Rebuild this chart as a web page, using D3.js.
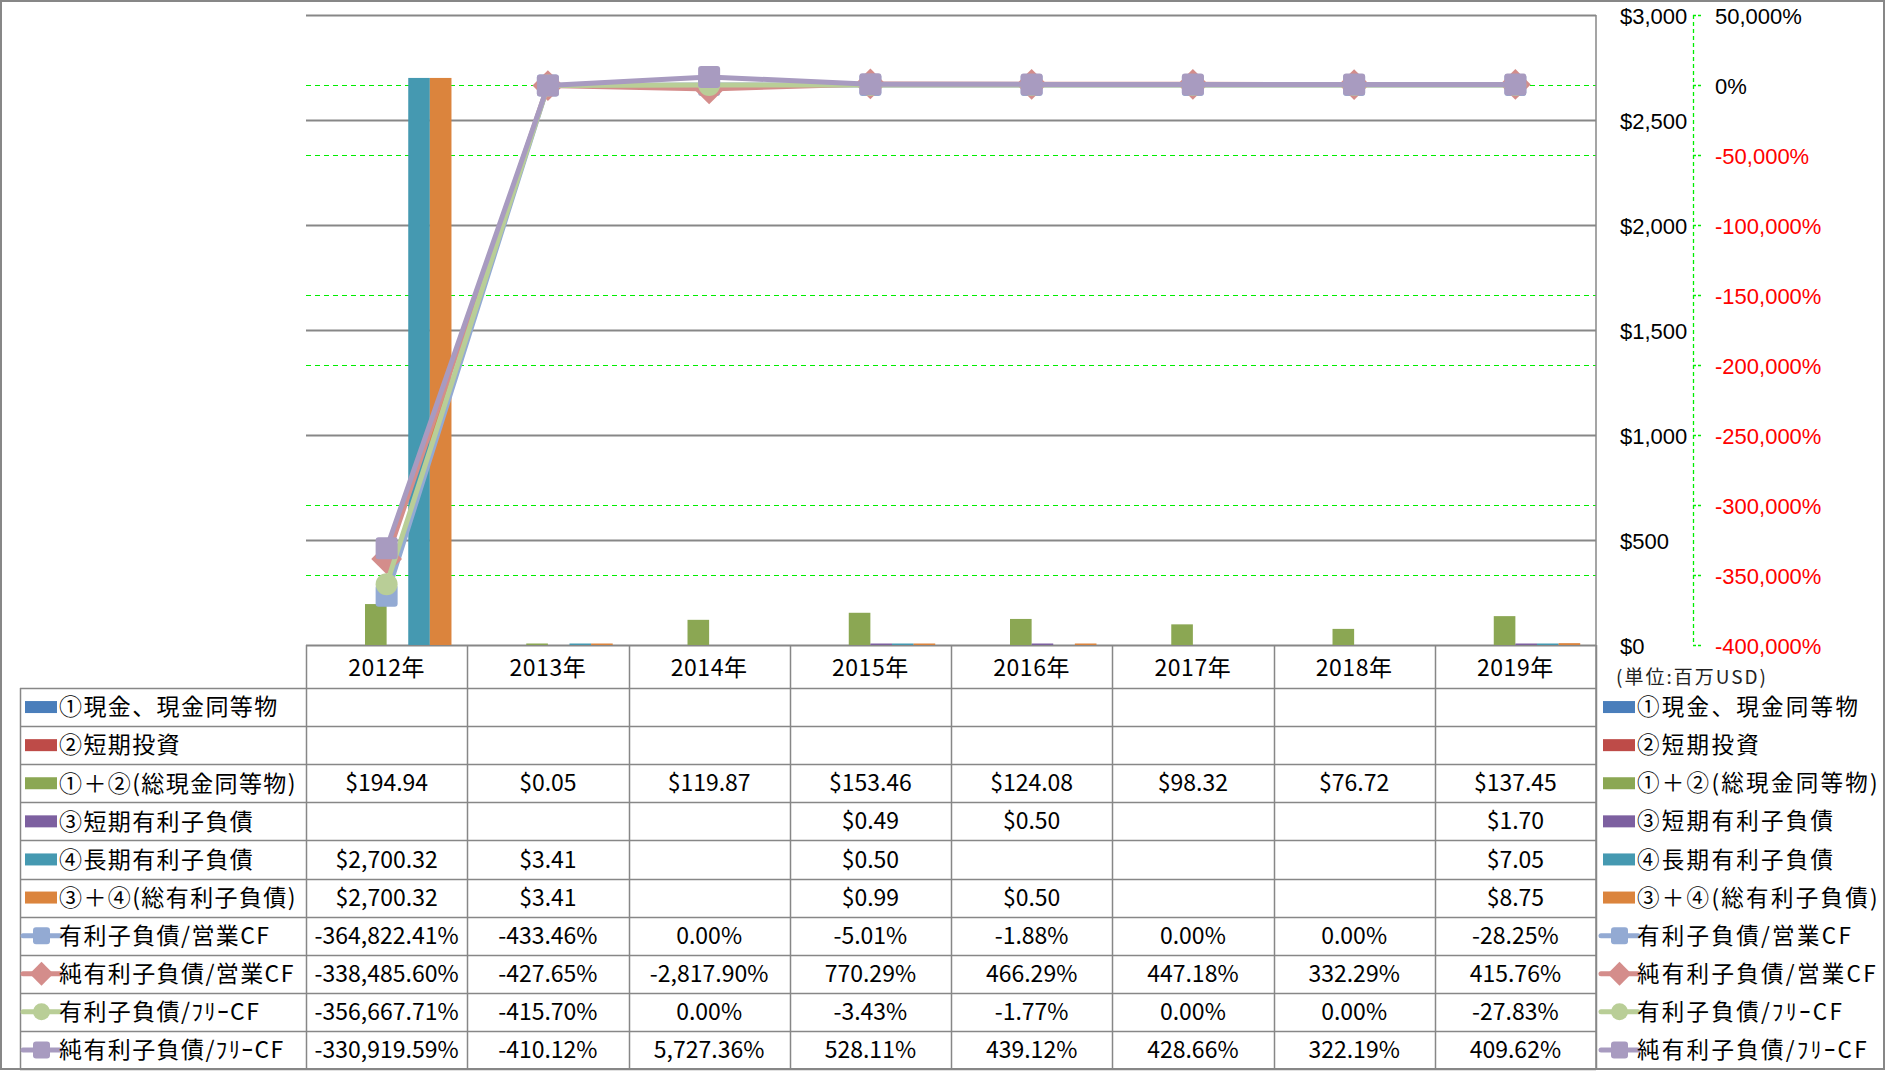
<!DOCTYPE html>
<html><head><meta charset="utf-8">
<script src="https://cdn.jsdelivr.net/npm/d3@7"></script>
<style>
html,body{margin:0;padding:0;background:#fff;}
svg text{font-family:"Noto Sans CJK JP","Noto Sans",sans-serif;}
</style></head>
<body><svg id="c" width="1886" height="1071"></svg>
<script>
// ---- data ----
const categories = ["2012年","2013年","2014年","2015年","2016年","2017年","2018年","2019年"];
const barNames = ["①現金、現金同等物","②短期投資","①＋②(総現金同等物)","③短期有利子負債","④長期有利子負債","③＋④(総有利子負債)"];
const cashEq      = [null,null,null,null,null,null,null,null];
const shortInv    = [null,null,null,null,null,null,null,null];
const totalCash   = [194.94,0.05,119.87,153.46,124.08,98.32,76.72,137.45];
const shortDebt   = [null,null,null,0.49,0.50,null,null,1.70];
const longDebt    = [2700.32,3.41,null,0.50,null,null,null,7.05];
const totalDebt   = [2700.32,3.41,null,0.99,0.50,null,null,8.75];
const lineNames = ["有利子負債/営業CF","純有利子負債/営業CF","有利子負債/ﾌﾘｰCF","純有利子負債/ﾌﾘｰCF"];
const debtOpCF    = [-364822.41,-433.46,0.00,-5.01,-1.88,0.00,0.00,-28.25];
const netDebtOpCF = [-338485.60,-427.65,-2817.90,770.29,466.29,447.18,332.29,415.76];
const debtFreeCF  = [-356667.71,-415.70,0.00,-3.43,-1.77,0.00,0.00,-27.83];
const netDebtFreeCF=[-330919.59,-410.12,5727.36,528.11,439.12,428.66,322.19,409.62];
const leftTicks  = [0,500,1000,1500,2000,2500,3000];
const rightTicks = [50000,0,-50000,-100000,-150000,-200000,-250000,-300000,-350000,-400000];
const unitLabel = "(単位:百万USD)";

const barSeries = [cashEq,shortInv,totalCash,shortDebt,longDebt,totalDebt];
const barColors = ["#4A7EBB","#BE4B48","#8BA753","#7D60A0","#4599B1","#DB843D"];
const lineSeries = [debtOpCF,netDebtOpCF,debtFreeCF,netDebtFreeCF];
const lineColors = ["#93AAD3","#D48D8B","#B9CE97","#A89BC0"];
const markers = ["square","diamond","circle","square"];

// ---- layout ----
const svg = d3.select("#c");
const X0=306, X1=1596, Y0=15, Y1=645;
const gridGray="#878787";
const loc = d3.formatLocale({decimal:".",thousands:",",grouping:[3],currency:["$",""],minus:"-"});
const f2 = loc.format(",.2f"), f0 = loc.format(",");

const x = d3.scaleBand().domain(categories).range([X0,X1]).padding(0);
const xb = d3.scaleBand().domain(d3.range(barSeries.length)).range([0,x.bandwidth()]).paddingInner(0).paddingOuter(0.73);
const yL = d3.scaleLinear().domain([0,3000]).range([Y1,Y0]);
const yR = d3.scaleLinear().domain([-400000,50000]).range([Y1,Y0]);
const r = v => Math.round(v)+0.5;

// chart border
svg.append("rect").attr("x",1).attr("y",1).attr("width",1883).attr("height",1068)
  .attr("fill","none").attr("stroke",gridGray).attr("stroke-width",2);

// green dashed secondary grid
svg.append("g").selectAll("line").data(rightTicks).join("line")
  .attr("x1",X0).attr("x2",X1).attr("y1",d=>r(yR(d))).attr("y2",d=>r(yR(d)))
  .attr("stroke","#00EE00").attr("stroke-width",1.2).attr("stroke-dasharray","5,4");
// gray primary grid
svg.append("g").selectAll("line").data(leftTicks).join("line")
  .attr("x1",X0).attr("x2",X1).attr("y1",d=>r(yL(d))).attr("y2",d=>r(yL(d)))
  .attr("stroke",gridGray).attr("stroke-width",1.8);
// plot right border
svg.append("line").attr("x1",X1).attr("x2",X1).attr("y1",Y0).attr("y2",1070)
  .attr("stroke",gridGray).attr("stroke-width",1.5);

// bars
barSeries.forEach((s,si)=>{
  svg.append("g").selectAll("rect").data(s.map((v,i)=>({v,c:categories[i]})).filter(d=>d.v!==null)).join("rect")
    .attr("x",d=>x(d.c)+xb(si)).attr("width",xb.bandwidth())
    .attr("y",d=>Math.min(yL(d.v),Y1-1.5)).attr("height",d=>Math.max(Y1-yL(d.v),1.5))
    .attr("fill",barColors[si]);
});

// marker path helper
function markerPath(type,cx,cy,s){
  if(type==="circle"){const rr=s/2;return `M${cx-rr},${cy}a${rr},${rr} 0 1,0 ${2*rr},0a${rr},${rr} 0 1,0 ${-2*rr},0Z`;}
  if(type==="diamond"){const rr=s*0.7;return `M${cx},${cy-rr}L${cx+rr},${cy}L${cx},${cy+rr}L${cx-rr},${cy}Z`;}
  const h=s/2,rr=3;
  return `M${cx-h+rr},${cy-h}H${cx+h-rr}Q${cx+h},${cy-h} ${cx+h},${cy-h+rr}V${cy+h-rr}Q${cx+h},${cy+h} ${cx+h-rr},${cy+h}H${cx-h+rr}Q${cx-h},${cy+h} ${cx-h},${cy+h-rr}V${cy-h+rr}Q${cx-h},${cy-h} ${cx-h+rr},${cy-h}Z`;
}

// lines
const line = d3.line().x(d=>x(d.c)+x.bandwidth()/2).y(d=>yR(d.v));
lineSeries.forEach((s,si)=>{
  const pts = s.map((v,i)=>({v,c:categories[i]}));
  const g = svg.append("g");
  g.append("path").attr("d",line(pts)).attr("fill","none").attr("stroke",lineColors[si])
    .attr("stroke-width",5).attr("stroke-linejoin","round");
  g.selectAll("path.m").data(pts).join("path").attr("class","m")
    .attr("d",d=>markerPath(markers[si],x(d.c)+x.bandwidth()/2,yR(d.v),22))
    .attr("fill",lineColors[si]);
});

// primary axis labels (right side)
svg.append("g").selectAll("text").data(leftTicks).join("text")
  .attr("x",1620).attr("y",d=>yL(d)+1).attr("dy","0.35em").attr("font-size",22)
  .style("font-family","'Liberation Sans',Arial,sans-serif")
  .attr("fill","#000").text(d=>"$"+f0(d));

// secondary axis
svg.append("line").attr("x1",1693.5).attr("x2",1693.5).attr("y1",Y0).attr("y2",Y1)
  .attr("stroke","#00EE00").attr("stroke-width",1.3).attr("stroke-dasharray","4,3");
svg.append("g").selectAll("line").data(rightTicks).join("line")
  .attr("x1",1693).attr("x2",1701).attr("y1",d=>r(yR(d))).attr("y2",d=>r(yR(d)))
  .attr("stroke","#00EE00").attr("stroke-width",1.3).attr("stroke-dasharray","3,2");
svg.append("g").selectAll("text").data(rightTicks).join("text")
  .attr("x",1715).attr("y",d=>yR(d)+1).attr("dy","0.35em").attr("font-size",22)
  .style("font-family","'Liberation Sans',Arial,sans-serif")
  .attr("fill",d=>d<0?"#FF0000":"#000").text(d=>f0(d)+"%");

svg.append("text").attr("x",1616).attr("y",677).attr("dy","0.35em").attr("font-size",19)
  .attr("letter-spacing",2).attr("fill","#222").text(unitLabel);

// ---- data table ----
const TL=20, HB=688, RB=1069, nRows=10, rowH=(RB-HB)/nRows;
const edges = categories.map(c=>x(c)).concat([X1]);
svg.append("g").selectAll("line").data(edges).join("line")
  .attr("x1",d=>r(d)).attr("x2",d=>r(d)).attr("y1",Y1).attr("y2",RB)
  .attr("stroke",gridGray).attr("stroke-width",1.5);
svg.append("g").selectAll("line").data(d3.range(nRows+1)).join("line")
  .attr("x1",TL).attr("x2",X1).attr("y1",i=>r(HB+i*rowH)).attr("y2",i=>r(HB+i*rowH))
  .attr("stroke",gridGray).attr("stroke-width",1.5);
svg.append("line").attr("x1",TL+0.5).attr("x2",TL+0.5).attr("y1",HB).attr("y2",RB)
  .attr("stroke",gridGray).attr("stroke-width",1.5);
svg.append("g").selectAll("text").data(categories).join("text")
  .attr("x",d=>x(d)+x.bandwidth()/2).attr("y",(Y1+HB)/2+1).attr("dy","0.35em")
  .attr("text-anchor","middle").attr("font-size",23).attr("letter-spacing",0.5).text(d=>d);

const allNames = barNames.concat(lineNames);
const allSeries = barSeries.concat(lineSeries);
const allColors = barColors.concat(lineColors);
const fmtCell = (v,i)=> v===null? "" : (i<6 ? "$"+f2(v) : f2(v)+"%");

allSeries.forEach((s,ri)=>{
  const cy = HB + ri*rowH + rowH/2;
  svg.append("g").selectAll("text").data(s.map((v,i)=>({v,c:categories[i]}))).join("text")
    .attr("x",d=>x(d.c)+x.bandwidth()/2).attr("y",cy).attr("dy","0.35em")
    .attr("text-anchor","middle").attr("font-size",23).text(d=>fmtCell(d.v,ri));
});

function legendItem(ri, sx, tx, fs, ls){
  const cy = HB + ri*rowH + rowH/2;
  const g = svg.append("g");
  if(ri<6){
    g.append("rect").attr("x",sx).attr("y",cy-6).attr("width",32).attr("height",12).attr("fill",allColors[ri]);
  } else {
    const li = ri-6;
    g.append("line").attr("x1",sx-2).attr("x2",sx+35).attr("y1",cy).attr("y2",cy)
      .attr("stroke",lineColors[li]).attr("stroke-width",5).attr("stroke-linecap","round");
    g.append("path").attr("d",markerPath(markers[li],sx+16.5,cy,17)).attr("fill",lineColors[li]);
  }
  g.append("text").attr("x",tx).attr("y",cy).attr("dy","0.36em").attr("font-size",fs)
    .attr("letter-spacing",ls).text(allNames[ri]);
}
allNames.forEach((n,ri)=>{
  legendItem(ri, 25, 59, 23, 1.4);
  legendItem(ri, 1603, 1637, 22.5, 2.3);
});
</script></body></html>
